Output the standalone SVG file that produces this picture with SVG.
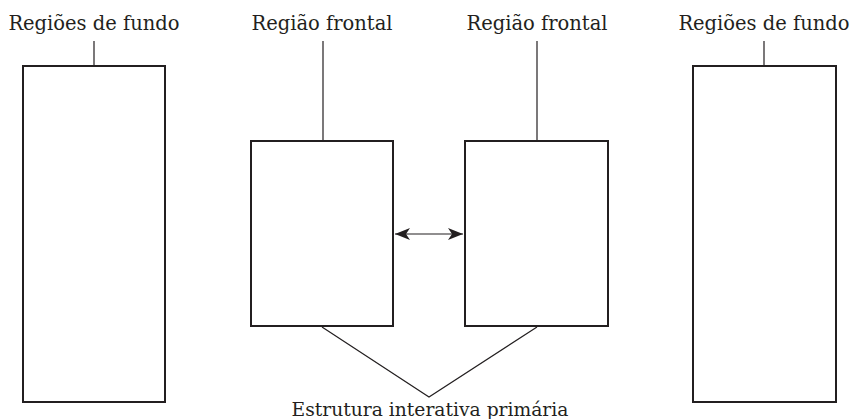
<svg xmlns="http://www.w3.org/2000/svg" width="852" height="419" viewBox="0 0 852 419">
<style>
.box{fill:#fff;stroke:#231f20;stroke-width:2}
.ln{stroke:#231f20;stroke-width:1.2;fill:none}
.t{font-family:"DejaVu Serif",serif;font-size:19.5px;fill:#231f20;text-anchor:middle}
</style>
<defs>
<marker id="ah" viewBox="0 0 15 12" refX="15" refY="6" markerWidth="15" markerHeight="12" markerUnits="userSpaceOnUse" orient="auto-start-reverse">
<path d="M0,0 L15,6 L0,12 L4,6 Z" fill="#231f20"/>
</marker>
</defs>
<g id="bg-left">
<text class="t" x="94" y="30">Regiões de fundo</text>
<rect class="box" x="23" y="66" width="142" height="336"/>
</g>
<g id="front-left">
<text class="t" x="322" y="30">Região frontal</text>
<rect class="box" x="251" y="141" width="142" height="185"/>
</g>
<g id="front-right">
<text class="t" x="537" y="30">Região frontal</text>
<rect class="box" x="465" y="141" width="143" height="185"/>
</g>
<g id="bg-right">
<text class="t" x="764" y="30">Regiões de fundo</text>
<rect class="box" x="693" y="66" width="143" height="336"/>
</g>
<g id="primary">
<text class="t" x="430" y="416" style="font-size:18.7px">Estrutura interativa primária</text>
</g>
<g id="connectors">
<line class="ln" x1="94" y1="41" x2="94" y2="65"/>
<line class="ln" x1="764" y1="41" x2="764" y2="65"/>
<line class="ln" x1="323" y1="41" x2="323" y2="140"/>
<line class="ln" x1="537" y1="41" x2="537" y2="140"/>
<line class="ln" x1="395" y1="234" x2="463" y2="234" stroke-width="1.5" marker-start="url(#ah)" marker-end="url(#ah)"/>
<polyline class="ln" points="322,327 429,397 537,327"/>
</g>
</svg>
